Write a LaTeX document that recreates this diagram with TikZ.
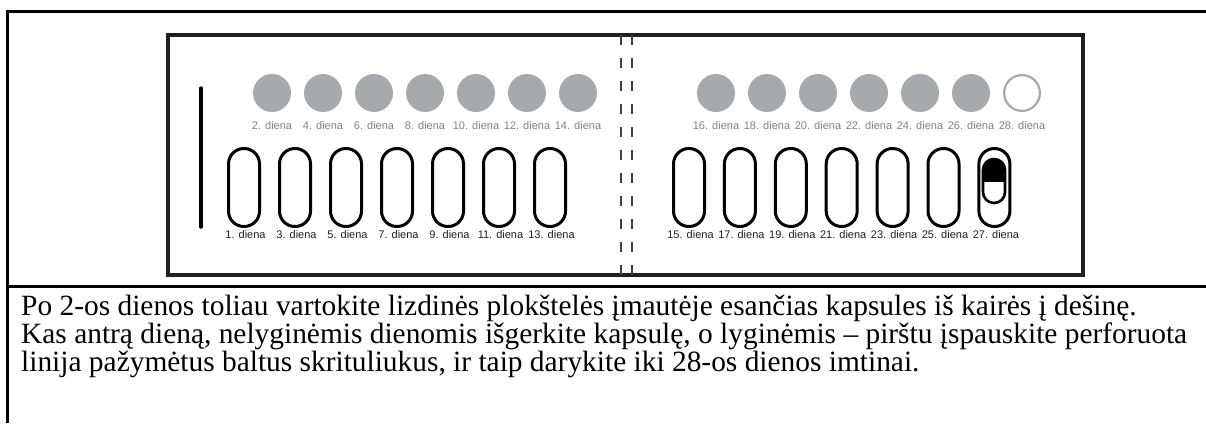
\documentclass[tikz,border=0pt]{standalone}
\usepackage{fontspec}
\setmainfont{Liberation Serif}
\newfontfamily\labelfont{Liberation Sans}
\definecolor{pillgray}{HTML}{A7A9AC}
\definecolor{lblgray}{HTML}{808285}
\definecolor{lbldark}{HTML}{231F20}
\tikzset{
  frameline/.style={line width=3pt, black},
  blister/.style={draw=black!88, line width=4pt},
  dot/.style={circle, fill=pillgray, minimum size=38pt, inner sep=0pt, outer sep=0pt},
  emptydot/.style={circle, draw=pillgray, line width=2.2pt, fill=white, minimum size=35.8pt, inner sep=0pt},
  slot/.style={rectangle, draw=black, line width=3pt, rounded corners=15.4pt, minimum width=31pt, minimum height=78pt, inner sep=0pt},
  capsule/.style={rectangle, draw=black, line width=2.6pt, rounded corners=10.9pt, minimum width=22pt, minimum height=44pt, inner sep=0pt},
  toplbl/.style={anchor=base, text=lblgray, font=\labelfont\fontsize{11}{13}\selectfont, inner sep=0pt},
  botlbl/.style={anchor=base, text=lbldark, font=\labelfont\fontsize{11}{13}\selectfont, inner sep=0pt},
  perf/.style={draw=black!75, line width=1.5pt, dash pattern=on 10pt off 13pt},
  bodytext/.style={anchor=base west, font=\fontsize{29.4}{30}\selectfont, inner sep=0pt}
}
\begin{document}
\begin{tikzpicture}[x=1pt,y=-1pt]
\useasboundingbox (0,0) rectangle (1206,423);
\fill[white] (0,0) rectangle (1206,423);
% outer frame
\draw[frameline] (1206,11) -- (7,11) -- (7,423);
\draw[frameline] (7,286) -- (1206,286);
% blister card
\node[blister, minimum width=915pt, minimum height=240pt, inner sep=0pt] (card) at (625.5,155) {};
\draw[line width=3.5pt, line cap=round] (201,88) -- (201,227);
\draw[perf] (621,35) -- (621,275);
\draw[perf] (632,35) -- (632,275);
% left half
\foreach \i in {0,...,6}{
  \pgfmathtruncatemacro{\ev}{2+2*\i}
  \pgfmathtruncatemacro{\od}{1+2*\i}
  \node[dot] (c\ev) at ({272+51*\i},93) {};
  \node[toplbl] (lc\ev) at ({272+51*\i},129) {\ev. diena};
  \node[slot] (s\od) at ({244+51*\i},187.5) {};
  \node[botlbl] (ls\od) at ({245.5+51*\i},238) {\od. diena};
}
% right half
\foreach \i in {0,...,5}{
  \pgfmathtruncatemacro{\ev}{16+2*\i}
  \node[dot] (c\ev) at ({716+51*\i},93) {};
}
\node[emptydot] (c28) at (1022,93) {};
\foreach \i in {0,...,6}{
  \pgfmathtruncatemacro{\ev}{16+2*\i}
  \node[toplbl] (lc\ev) at ({716+51*\i},129) {\ev. diena};
}
\foreach \i in {0,...,6}{
  \pgfmathtruncatemacro{\od}{15+2*\i}
  \node[slot] (s\od) at ({689+50.9*\i},187.5) {};
  \node[botlbl] (ls\od) at ({690.5+50.9*\i},238) {\od. diena};
}
% capsule in slot 27
\begin{scope}
  \clip (975,150) rectangle (1015,181);
  \fill[black, rounded corners=10.9pt] (983,159) rectangle (1005,203);
\end{scope}
\node[capsule] (cap) at (994,181) {};
% text
\node[bodytext] (t1) at (21,315) {Po 2-os dienos toliau vartokite lizdinės plokštelės įmautėje esančias kapsules iš kairės į dešinę.};
\node[bodytext] (t2) at (21,343.5) {Kas antrą dieną, nelyginėmis dienomis išgerkite kapsulę, o lyginėmis – pirštu įspauskite perforuota};
\node[bodytext] (t3) at (21,371.5) {linija pažymėtus baltus skrituliukus, ir taip darykite iki 28-os dienos imtinai.};
\end{tikzpicture}
\end{document}
